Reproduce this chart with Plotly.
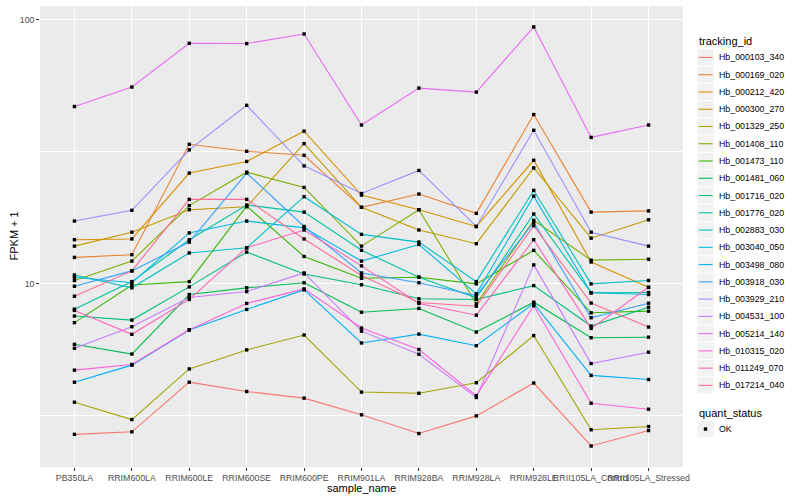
import plotly.graph_objects as go

samples = ["PB350LA", "RRIM600LA", "RRIM600LE", "RRIM600SE", "RRIM600PE",
           "RRIM901LA", "RRIM928BA", "RRIM928LA", "RRIM928LE",
           "RRII105LA_Control", "RRII105LA_Stressed"]

tracking_ids = ["Hb_000103_340", "Hb_000169_020", "Hb_000212_420", "Hb_000300_270",
                "Hb_001329_250", "Hb_001408_110", "Hb_001473_110", "Hb_001481_060",
                "Hb_001716_020", "Hb_001776_020", "Hb_002883_030", "Hb_003040_050",
                "Hb_003498_080", "Hb_003918_030", "Hb_003929_210", "Hb_004531_100",
                "Hb_005214_140", "Hb_010315_020", "Hb_011249_070", "Hb_017214_040"]

colors = ["#F8766D", "#EA8331", "#D89000", "#C09B00", "#A3A500", "#7CAE00", "#39B600",
          "#00BB4E", "#00BF7D", "#00C1A3", "#00BFC4", "#00BAE0", "#00B0F6", "#35A2FF",
          "#9590FF", "#C77CFF", "#E76BF3", "#FA62DB", "#FF62BC", "#FF6C91"]

# FPKM + 1 per tracking_id, in sample order
Hb_000103_340 = [2.69, 2.75, 4.24, 3.91, 3.69, 3.19, 2.71, 3.16, 4.21, 2.43, 2.78]
Hb_000169_020 = [12.6, 12.9, 33.8, 31.8, 30.7, 19.5, 21.9, 18.5, 43.8, 18.7, 18.9]
Hb_000212_420 = [14.7, 14.8, 26.3, 29.1, 37.9, 21.7, 19.1, 16.5, 29.4, 12.1, 9.7]
Hb_000300_270 = [13.9, 15.7, 19.1, 19.6, 34.0, 19.5, 16.0, 14.2, 27.5, 14.9, 17.5]
Hb_001329_250 = [3.56, 3.06, 4.76, 5.62, 6.40, 3.89, 3.85, 4.22, 6.37, 2.80, 2.88]
Hb_001408_110 = [10.3, 12.2, 19.8, 26.5, 23.2, 13.9, 19.1, 8.4, 17.4, 12.3, 12.4]
Hb_001473_110 = [7.13, 9.9, 10.2, 19.7, 12.7, 10.5, 10.6, 10.0, 13.4, 7.77, 7.88]
Hb_001481_060 = [5.90, 5.42, 9.11, 9.66, 10.1, 7.81, 8.07, 6.57, 8.52, 6.25, 6.28]
Hb_001716_020 = [7.55, 7.29, 9.74, 13.2, 10.9, 9.92, 8.78, 8.73, 9.85, 6.92, 8.16]
Hb_001776_020 = [8.02, 10.2, 14.7, 19.9, 18.7, 13.4, 10.6, 8.86, 18.4, 9.25, 9.28]
Hb_002883_030 = [10.8, 9.66, 13.1, 13.7, 21.4, 15.4, 14.4, 10.2, 22.6, 10.0, 10.3]
Hb_003040_050 = [10.6, 10.1, 15.6, 17.3, 16.3, 12.2, 14.1, 9.17, 21.5, 9.25, 9.11]
Hb_003498_080 = [4.24, 4.92, 6.68, 8.0, 9.49, 5.97, 6.45, 5.83, 8.43, 4.50, 4.34]
Hb_003918_030 = [9.79, 11.2, 14.4, 26.3, 16.5, 11.0, 10.1, 9.03, 17.1, 7.44, 8.45]
Hb_003929_210 = [17.3, 19.0, 32.2, 47.5, 28.0, 22.0, 26.9, 16.5, 38.2, 15.7, 13.9]
Hb_004531_100 = [5.70, 6.88, 8.88, 9.35, 11.0, 6.62, 5.41, 3.71, 11.8, 4.99, 5.51]
Hb_005214_140 = [47.0, 55.7, 81.6, 81.4, 88.5, 40.0, 55.2, 53.3, 94.1, 35.9, 40.0]
Hb_010315_020 = [4.71, 4.95, 6.70, 8.43, 9.57, 6.80, 5.64, 3.77, 8.26, 3.53, 3.35]
Hb_011249_070 = [7.93, 6.44, 8.73, 13.7, 16.0, 11.7, 8.43, 7.61, 14.7, 6.78, 9.71]
Hb_017214_040 = [8.98, 11.2, 20.9, 20.9, 14.8, 10.75, 8.5, 8.23, 16.6, 8.46, 6.86]

series = [Hb_000103_340, Hb_000169_020, Hb_000212_420, Hb_000300_270, Hb_001329_250,
          Hb_001408_110, Hb_001473_110, Hb_001481_060, Hb_001716_020, Hb_001776_020,
          Hb_002883_030, Hb_003040_050, Hb_003498_080, Hb_003918_030, Hb_003929_210,
          Hb_004531_100, Hb_005214_140, Hb_010315_020, Hb_011249_070, Hb_017214_040]

quant_status = ["OK"]

W, H = 800, 500
L, R, T, B = 40, 683, 5.5, 467
FONT = "Liberation Sans, Arial, Helvetica, sans-serif"

fig = go.Figure()
for name, col, vals in zip(tracking_ids, colors, series):
    fig.add_trace(go.Scatter(x=samples, y=vals, mode="lines", name=name,
                             line=dict(color=col, width=1.1), showlegend=False))

px_x, px_y = [], []
for vals in series:
    px_x += samples
    px_y += vals
fig.add_trace(go.Scatter(x=px_x, y=px_y, mode="markers", name=quant_status[0],
                         marker=dict(symbol="square", size=3.4, color="black"),
                         showlegend=False))

def pxx(p):
    return (p - L) / (R - L)

def pxy(p):
    return (B - p) / (B - T)

shapes, annots = [], []
# legend: tracking_id
annots.append(dict(x=pxx(697), y=pxy(41), xref="paper", yref="paper", text="tracking_id",
                   showarrow=False, xanchor="left", yanchor="middle",
                   font=dict(size=11, color="black", family=FONT)))
step = 17.28
for i, (name, col) in enumerate(zip(tracking_ids, colors)):
    cy = 57 + step * i
    shapes.append(dict(type="rect", xref="paper", yref="paper",
                       x0=pxx(697), x1=pxx(697 + step), y0=pxy(cy - step / 2), y1=pxy(cy + step / 2),
                       fillcolor="#F2F2F2", line=dict(color="white", width=1), layer="above"))
    shapes.append(dict(type="line", xref="paper", yref="paper",
                       x0=pxx(698.7), x1=pxx(697 + step - 1.7), y0=pxy(cy), y1=pxy(cy),
                       line=dict(color=col, width=1.1), layer="above"))
    annots.append(dict(x=pxx(717), y=pxy(cy), xref="paper", yref="paper", text=name,
                       showarrow=False, xanchor="left", yanchor="middle",
                       font=dict(size=8.8, color="black", family=FONT)))
# legend: quant_status
annots.append(dict(x=pxx(697), y=pxy(412.5), xref="paper", yref="paper", text="quant_status",
                   showarrow=False, xanchor="left", yanchor="middle",
                   font=dict(size=11, color="black", family=FONT)))
cy = 429
shapes.append(dict(type="rect", xref="paper", yref="paper",
                   x0=pxx(697), x1=pxx(697 + step), y0=pxy(cy - step / 2), y1=pxy(cy + step / 2),
                   fillcolor="#F2F2F2", line=dict(color="white", width=1), layer="above"))
shapes.append(dict(type="rect", xref="paper", yref="paper",
                   x0=pxx(703.8), x1=pxx(707.2), y0=pxy(cy - 1.7), y1=pxy(cy + 1.7),
                   fillcolor="black", line=dict(width=0), layer="above"))
annots.append(dict(x=pxx(717), y=pxy(cy), xref="paper", yref="paper", text=quant_status[0],
                   showarrow=False, xanchor="left", yanchor="middle",
                   font=dict(size=8.8, color="black", family=FONT)))
# axis titles
annots.append(dict(x=0.5, y=pxy(488), xref="paper", yref="paper", text="sample_name",
                   showarrow=False, xanchor="center", yanchor="middle",
                   font=dict(size=11, color="black", family=FONT)))
annots.append(dict(x=pxx(13), y=0.5, xref="paper", yref="paper", text="FPKM + 1",
                   showarrow=False, xanchor="center", yanchor="middle", textangle=-90,
                   font=dict(size=11, color="black", family=FONT)))

fig.update_layout(
    width=W, height=H,
    margin=dict(l=L, r=W - R, t=T, b=H - B, pad=0),
    paper_bgcolor="white", plot_bgcolor="#EBEBEB",
    font=dict(family=FONT, color="black"),
    showlegend=False,
    shapes=shapes, annotations=annots,
    xaxis=dict(type="category", categoryorder="array", categoryarray=samples,
               range=[-0.6, len(samples) - 0.4], showgrid=True, gridcolor="white",
               gridwidth=1.1, zeroline=False, showline=False, ticks="outside",
               ticklen=2.75, tickwidth=1, tickcolor="#333333", tickangle=0,
               tickfont=dict(size=8.8, color="#4D4D4D", family=FONT), fixedrange=True),
    yaxis=dict(type="log", range=[0.306, 2.053], tickvals=[10, 100], ticktext=["10", "100"],
               showgrid=True, gridcolor="white", gridwidth=1.1, zeroline=False,
               showline=False, ticks="outside", ticklen=2.75, tickwidth=1,
               tickcolor="#333333", tickfont=dict(size=8.8, color="#4D4D4D", family=FONT),
               minor=dict(tickvals=[10 ** 0.5, 10 ** 1.5], showgrid=True,
                          gridcolor="white", gridwidth=0.55, ticks=""),
               fixedrange=True),
)

fig.write_html("out.html", config={"displayModeBar": False},
               post_script="document.body.style.margin='0';document.body.style.overflow='hidden';")
